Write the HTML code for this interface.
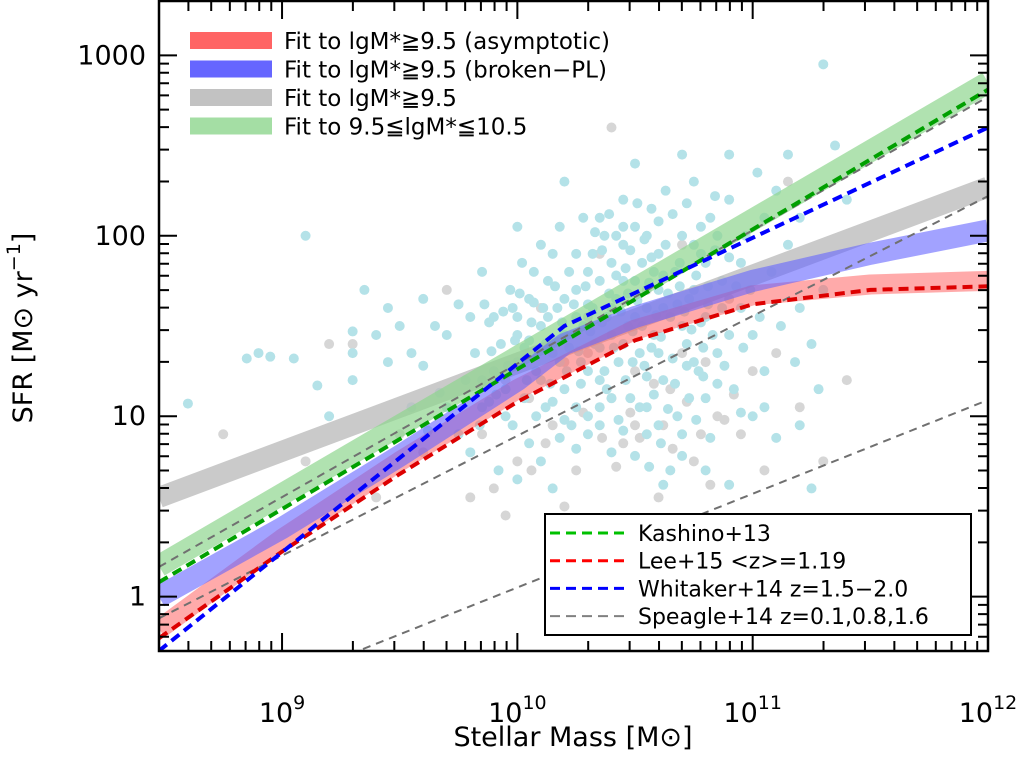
<!DOCTYPE html>
<html><head><meta charset="utf-8"><style>
html,body{margin:0;padding:0;background:#fff;}
svg text{font-family:"DejaVu Sans","Liberation Sans",sans-serif;fill:#000;}
</style></head><body>
<svg id="chart" width="1021" height="753" viewBox="0 0 1021 753" xmlns="http://www.w3.org/2000/svg">
<g id="scatter"></g><g id="bands"></g><g id="lines"></g><g id="axes"></g><g id="legends"></g>
</svg>
<script>
const cyanPts=[[8.6,1.07],[8.9,1.35],[8.95,1.33],[9.05,1.32],[9.15,1.17],[9.2,1.0],[9.3,1.35],[9.35,1.7],[9.3,1.47],[9.45,1.3],[9.5,1.5],[9.55,1.05],[9.6,1.28],[9.62,0.92],[9.67,1.13],[9.7,1.45],[9.75,1.62],[9.78,1.2],[9.8,0.8],[9.82,1.35],[9.85,1.05],[9.88,1.52],[9.9,1.25],[9.92,0.7],[9.93,1.4],[9.95,1.15],[9.97,1.7],[9.98,0.95],[10.0,1.3],[10.0,1.55],[10.02,1.85],[10.03,1.1],[10.05,1.42],[10.05,0.85],[10.07,1.63],[10.08,1.25],[10.1,1.95],[10.1,1.5],[10.12,1.05],[10.13,1.75],[10.15,1.35],[10.15,0.6],[10.17,1.6],[10.18,2.05],[10.2,1.45],[10.2,1.15],[10.22,1.8],[10.23,0.95],[10.25,1.55],[10.25,1.7],[10.27,1.3],[10.28,2.1],[10.3,1.62],[10.3,1.0],[10.32,1.9],[10.33,1.4],[10.35,1.75],[10.35,1.2],[10.37,2.0],[10.38,1.55],[10.4,1.85],[10.4,0.8],[10.42,1.65],[10.43,1.3],[10.45,1.95],[10.45,2.2],[10.47,1.5],[10.48,1.1],[10.5,1.75],[10.5,2.05],[10.52,1.35],[10.53,1.85],[10.55,1.6],[10.55,0.9],[10.57,2.15],[10.58,1.45],[10.6,1.9],[10.6,1.7],[10.62,1.2],[10.63,2.25],[10.65,1.55],[10.67,1.8],[10.68,1.0],[10.7,2.0],[10.72,1.4],[10.73,1.65],[10.75,2.3],[10.77,1.25],[10.78,1.9],[10.8,1.55],[10.82,2.1],[10.85,1.35],[10.87,1.75],[10.9,2.2],[10.92,1.15],[10.95,1.6],[10.97,2.0],[11.0,1.45],[11.02,2.35],[11.05,1.25],[11.08,1.8],[11.1,2.25],[11.12,1.5],[11.15,2.45],[11.18,1.3],[11.2,2.1],[11.25,0.6],[11.3,2.95],[11.35,2.5],[11.4,2.2],[11.3,1.7],[10.9,2.45],[10.7,2.45],[10.5,2.4],[10.2,2.3],[10.0,2.05],[9.85,1.8],[9.6,1.65],[9.4,1.45],[9.1,2.0],[8.85,1.32],[10.3,1.25],[10.1,1.2],[9.95,1.0],[10.25,1.05],[10.4,1.45],[10.6,1.35],[10.0,0.65],[10.1,0.75],[10.35,0.95],[10.55,1.05],[10.8,1.1],[11.0,1.0],[10.65,0.7],[9.75,0.9],[9.55,1.35],[9.8,1.55],[10.15,1.9],[10.45,1.75],[10.35,2.1],[10.55,2.0],[10.75,1.7],[10.95,1.85],[10.85,2.0],[10.05,1.65],[9.9,1.55],[10.2,1.65],[10.28,1.5],[10.4,1.6],[10.5,1.55],[10.62,1.6],[10.7,1.5],[11.05,2.1],[11.15,1.95],[10.25,1.9],[10.45,1.4],[9.7,1.05],[10.0,1.45],[10.12,1.4],[10.3,1.8],[10.42,2.0],[10.58,1.8],[10.8,1.85],[9.65,1.5],[9.85,1.2],[10.08,1.0],[10.18,0.88],[10.38,1.15],[10.6,0.95],[10.9,1.45],[11.2,1.6],[9.45,1.6],[9.3,1.2]];
const cyanPtsCore=[[10.36,1.52],[10.39,1.68],[10.41,1.38],[10.44,1.58],[10.46,1.82],[10.49,1.47],[10.51,1.64],[10.54,1.28],[10.56,1.74],[10.59,1.56],[10.61,1.44],[10.64,1.68],[10.66,1.32],[10.69,1.85],[10.71,1.58],[10.74,1.48],[10.76,1.78],[10.79,1.38],[10.81,1.62],[10.84,1.92],[10.31,1.47],[10.29,1.72],[10.26,1.36],[10.24,1.62],[10.21,1.25],[10.19,1.52],[10.16,1.72],[10.14,1.18],[10.11,1.6],[10.09,1.36],[10.06,1.52],[10.04,1.2],[10.01,1.68],[9.99,1.42],[9.96,1.28],[9.94,1.58],[9.91,1.12],[9.89,1.36],[9.86,1.62],[9.84,0.95],[10.37,1.25],[10.4,1.1],[10.43,0.98],[10.46,1.2],[10.49,1.3],[10.52,1.05],[10.55,1.22],[10.58,1.12],[10.61,0.85],[10.64,1.04],[10.67,1.18],[10.7,0.9],[10.73,1.1],[10.76,0.98],[10.79,1.22],[10.82,0.88],[10.33,2.02],[10.36,1.92],[10.39,2.12],[10.42,1.78],[10.45,2.05],[10.48,1.92],[10.51,2.18],[10.54,1.98],[10.57,1.88],[10.6,2.08],[10.63,1.95],[10.66,2.12],[10.69,1.72],[10.72,2.18],[10.75,1.95],[10.78,2.05],[10.81,1.72],[10.84,2.22],[10.87,1.6],[10.9,1.88],[10.93,1.72],[10.96,1.38],[10.99,1.7],[11.03,1.55],[10.22,1.38],[10.18,1.3],[10.27,1.18],[10.32,1.6],[10.35,1.38],[10.47,1.68],[10.53,1.5],[10.57,1.38],[10.62,1.78],[10.68,1.62],[10.72,1.28],[10.78,1.52],[10.83,1.45],[10.88,1.28],[10.13,1.55],[10.07,1.8],[10.03,1.38],[9.98,1.6],[9.93,1.22],[9.88,1.08],[10.15,1.08],[10.2,0.98],[10.25,0.82],[10.3,0.9],[10.35,1.05],[10.45,0.92],[10.5,0.78],[10.56,0.72],[10.62,0.62],[10.7,0.78],[10.75,1.3],[10.85,1.18],[10.95,1.02],[11.05,1.05],[11.1,0.88],[11.2,0.95],[11.25,1.4],[11.28,1.15],[10.9,0.62],[10.8,0.7]];
const greyPts=[[8.75,0.9],[9.1,0.75],[9.3,1.4],[9.4,0.55],[9.6,0.8],[9.7,1.7],[9.8,0.55],[9.9,0.6],[9.95,1.2],[10.0,0.75],[10.05,1.1],[10.1,1.6],[10.15,0.95],[10.2,1.3],[10.25,0.7],[10.3,1.55],[10.35,1.9],[10.4,1.1],[10.45,0.85],[10.5,1.25],[10.55,1.7],[10.6,0.55],[10.65,1.15],[10.7,1.95],[10.75,0.75],[10.8,1.3],[10.85,1.0],[10.9,1.65],[10.95,0.9],[11.0,1.25],[11.05,0.7],[11.1,1.35],[11.2,1.05],[11.3,0.75],[11.4,1.2],[10.4,2.6],[9.95,0.45],[10.2,0.5],[9.5,0.9],[9.2,1.4],[10.5,0.95],[10.7,1.35],[11.15,2.3],[10.3,1.35],[10.48,1.02],[10.52,0.88],[10.58,1.18],[10.62,0.95],[10.66,0.82],[10.72,1.08],[10.78,0.9],[10.82,0.62],[10.88,0.98],[10.92,1.12],[10.42,0.72],[10.36,0.88],[10.28,1.02],[10.12,0.85],[10.06,0.7],[9.85,0.9]];
const greenBand=[[8.477,0.17],[12,2.85]];
const greyBand=[[8.477,0.55],[12,2.27]];
const blueBand=[[8.477,0.0],[9,0.38],[9.5,0.78],[10,1.2],[10.2,1.4],[10.5,1.55],[11,1.75],[11.5,1.9],[12,2.03]];
const redBand=[[8.477,-0.18],[9,0.32],[9.5,0.75],[10,1.15],[10.5,1.48],[11,1.67],[11.5,1.73],[12,1.75]];
const kashino=[[8.477,0.08],[12,2.81]];
const lee=[[8.477,-0.23],[9,0.25],[9.5,0.68],[10,1.08],[10.5,1.42],[11,1.62],[11.5,1.70],[12,1.72]];
const whitaker=[[8.477,-0.30],[10.2,1.5],[12,2.6]];
const speagle1=[[8.477,0.165],[12,2.77]];
const speagle2=[[8.477,-0.12],[12,2.22]];
const speagle3=[[9.344,-0.29],[12,1.09]];
const xTickLabels=["9","10","11","12"];
const yTickLabels=["1","10","100","1000"];

const X0=159,X1=988,Y0=651,Y1=1;
const LX0=Math.log10(3e8),LX1=12,LY0=Math.log10(0.5),LY1=Math.log10(2000);
const sx=l=>X0+(l-LX0)/(LX1-LX0)*(X1-X0);
const sy=l=>Y0-(l-LY0)/(LY1-LY0)*(Y0-Y1);
const NS="http://www.w3.org/2000/svg";
function mk(tag,attrs,parent){const e=document.createElementNS(NS,tag);for(const k in attrs)e.setAttribute(k,attrs[k]);if(parent)parent.appendChild(e);return e;}
const svg=document.getElementById('chart');
const defs=mk('defs',{},svg);
const cp=mk('clipPath',{id:'clip'},defs);mk('rect',{x:X0,y:Y1,width:X1-X0,height:Y0-Y1},cp);
const pathD=pts=>pts.map((p,i)=>(i?'L':'M')+sx(p[0]).toFixed(1)+' '+sy(p[1]).toFixed(1)).join(' ');

const bands=document.getElementById('bands');bands.setAttribute('clip-path','url(#clip)');
const scatter=document.getElementById('scatter');scatter.setAttribute('clip-path','url(#clip)');
const lines=document.getElementById('lines');lines.setAttribute('clip-path','url(#clip)');

for(const p of greyPts){const c=mk('circle',{cx:sx(p[0]),cy:sy(p[1]),r:5,fill:'#d6d6d6'},scatter);

}
for(const p of cyanPts.concat(cyanPtsCore)){const c=mk('circle',{cx:sx(p[0]),cy:sy(p[1]),r:5,fill:'#b4e2e8'},scatter);

}

const bandDefs=[[greyBand,'#bdbdbd',0.8,21,'grey-fit-band'],[greenBand,'#8fd68f',0.7,22,'green-fit-band'],[redBand,'#ff6464',0.55,20,'red-fit-band'],[blueBand,'#6464ff',0.6,22,'blue-fit-band']];
for(const b of bandDefs){const e=mk('path',{d:pathD(b[0]),stroke:b[1],'stroke-opacity':b[2],'stroke-width':b[3],fill:'none','stroke-linejoin':'round'},bands);

}

const lineDefs=[[speagle1,'#707070',2,'8 6','speagle-z16-line'],[speagle2,'#707070',2,'8 6','speagle-z08-line'],[speagle3,'#707070',2,'8 6','speagle-z01-line'],[kashino,'#00a000',4,'10 6','kashino-line'],[lee,'#dd0000',4,'10 6','lee-line'],[whitaker,'#0000ff',4,'10 6','whitaker-line']];
for(const l of lineDefs){const e=mk('path',{d:pathD(l[0]),stroke:l[1],'stroke-width':l[2],'stroke-dasharray':l[3],fill:'none'},lines);

}

const axes=document.getElementById('axes');
const frame=mk('rect',{x:X0,y:Y1,width:X1-X0,height:Y0-Y1,fill:'none',stroke:'#000','stroke-width':2.5},axes);


let td='';
for(let d=8;d<=12;d++)for(let k=1;k<=9;k++){const l=d+Math.log10(k);if(l<LX0-1e-6||l>LX1+1e-6)continue;const x=sx(l),L=k==1?18:10;td+=`M${x} ${Y0}v${-L}M${x} ${Y1}v${L}`;}
for(let d=-1;d<=3;d++)for(let k=1;k<=9;k++){const l=d+Math.log10(k);if(l<LY0-1e-6||l>LY1+1e-6)continue;const y=sy(l),L=k==1?18:10;td+=`M${X0} ${y}h${L}M${X1} ${y}h${-L}`;}
const ticks=mk('path',{d:td,stroke:'#000','stroke-width':2,fill:'none'},axes);


xTickLabels.forEach(s=>{const x=sx(+s);const t=mk('text',{x:x,y:722,'font-size':27,'text-anchor':'middle'},axes);t.textContent='10';const sp=mk('tspan',{dy:-13,'font-size':19},t);sp.textContent=s;

});
yTickLabels.forEach(s=>{const y=sy(Math.log10(+s));const t=mk('text',{x:146,y:y+9,'font-size':27,'text-anchor':'end'},axes);t.textContent=s;

});
const xt=mk('text',{x:573,y:746,'font-size':27,'text-anchor':'middle'},axes);xt.textContent='Stellar Mass [M⊙]';


const yt=mk('text',{x:0,y:0,'font-size':27,'text-anchor':'middle',transform:'translate(32,328) rotate(-90)'},axes);yt.textContent='SFR [M⊙ yr';const ys=mk('tspan',{dy:-12,'font-size':19},yt);ys.textContent='−1';const ys2=mk('tspan',{dy:12},yt);ys2.textContent=']';



const lg=document.getElementById('legends');
const leg1=[['#ff6464','Fit to lgM*≧9.5 (asymptotic)'],['#6666ff','Fit to lgM*≧9.5 (broken−PL)'],['#c2c2c2','Fit to lgM*≧9.5'],['#a4dea4','Fit to 9.5≦lgM*≦10.5']];
leg1.forEach((e,i)=>{const y=40+i*28.5;const r=mk('rect',{x:190,y:y-8,width:82,height:17,fill:e[0]},lg);


const t=mk('text',{x:284,y:y+9,'font-size':23},lg);t.textContent=e[1];

});
const box=mk('rect',{x:545,y:514,width:426,height:121,fill:'#fff',stroke:'#000','stroke-width':2},lg);


const leg2=[['#00c000',3,'Kashino+13'],['#ff0000',3,'Lee+15 <z>=1.19'],['#0000ff',3,'Whitaker+14 z=1.5−2.0'],['#808080',2,'Speagle+14 z=0.1,0.8,1.6']];
leg2.forEach((e,i)=>{const y=533+i*27.7;const l=mk('line',{x1:550,x2:627,y1:y,y2:y,stroke:e[0],'stroke-width':e[1],'stroke-dasharray':'10 6'},lg);


const t=mk('text',{x:638,y:y+8,'font-size':22},lg);t.textContent=e[2];

});
</script>
</body></html>
